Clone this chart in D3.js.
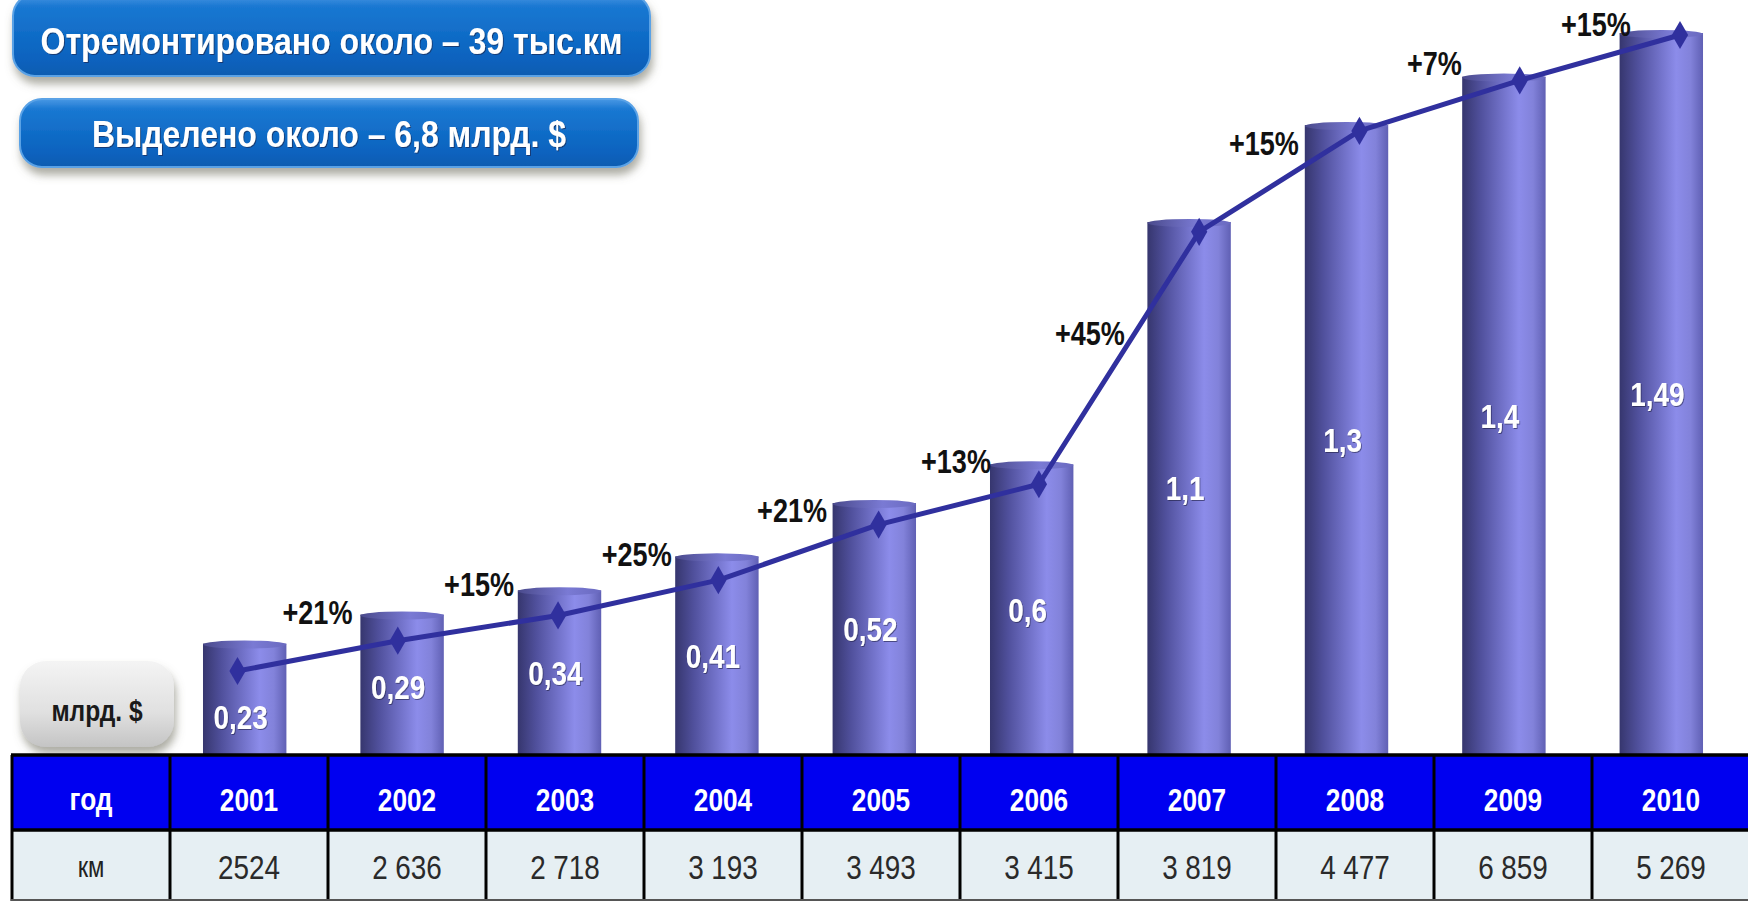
<!DOCTYPE html>
<html>
<head>
<meta charset="utf-8">
<script src="https://cdn.jsdelivr.net/npm/d3@7"></script>
<style>
  body { margin: 0; background: #fff; }
  svg { display: block; font-family: 'Liberation Sans', Arial, sans-serif; }
</style>
</head>
<body>
<svg width="1748" height="902"></svg>
<script>
// data
const years = ['2001', '2002', '2003', '2004', '2005', '2006', '2007', '2008', '2009', '2010']
const funding = [0.23, 0.29, 0.34, 0.41, 0.52, 0.6, 1.1, 1.3, 1.4, 1.49]
const growth = ['+21%', '+15%', '+25%', '+21%', '+13%', '+45%', '+15%', '+7%', '+15%']
const kmText = ['2524', '2 636', '2 718', '3 193', '3 493', '3 415', '3 819', '4 477', '6 859', '5 269']
const banners = ['Отремонтировано около – 39 тыс.км', 'Выделено около – 6,8 млрд. $']
const rowLabels = ['год', 'км']
const unitLabel = 'млрд. $'

const svg = d3.select('svg')
const width = +svg.attr('width')
const height = +svg.attr('height')

const tableTop = 755
const headerBottom = 830
const tableBottom = 900
const tableLeft = 12
const labelColW = 158
const narrow = 0.82 // no narrow font installed, squeeze Liberation Sans instead

const at = (x, y) => `translate(${x},${y}) scale(${narrow},1)`

const defs = svg.append('defs')

const barGrad = defs.append('linearGradient').attr('id', 'barGrad')
  .attr('x1', 0).attr('x2', 1).attr('y1', 0).attr('y2', 0)
;[[0, '#36366e'], [0.22, '#50509c'], [0.5, '#7474cc'], [0.68, '#8c8cea'], [0.85, '#8282da'], [1, '#6060b4']]
  .forEach(([o, c]) => barGrad.append('stop').attr('offset', o).attr('stop-color', c))

const topGrad = defs.append('linearGradient').attr('id', 'topGrad')
  .attr('x1', 0).attr('x2', 1).attr('y1', 0).attr('y2', 0)
;[[0, '#4a4a8c'], [0.6, '#7a7ad4'], [1, '#6a6ac0']]
  .forEach(([o, c]) => topGrad.append('stop').attr('offset', o).attr('stop-color', c))

const blueGrad = defs.append('linearGradient').attr('id', 'blueGrad')
  .attr('x1', 0).attr('x2', 0).attr('y1', 0).attr('y2', 1)
;[[0, '#4a98e4'], [0.15, '#1a78d2'], [0.8, '#0862be'], [1, '#0a5cb0']]
  .forEach(([o, c]) => blueGrad.append('stop').attr('offset', o).attr('stop-color', c))

const greyGrad = defs.append('linearGradient').attr('id', 'greyGrad')
  .attr('x1', 0).attr('x2', 0).attr('y1', 0).attr('y2', 1)
;[[0, '#f4f4f4'], [0.6, '#e0e0e0'], [1, '#c4c4c4']]
  .forEach(([o, c]) => greyGrad.append('stop').attr('offset', o).attr('stop-color', c))

const shadow = defs.append('filter').attr('id', 'shadow')
  .attr('x', '-10%').attr('y', '-20%').attr('width', '120%').attr('height', '160%')
shadow.append('feDropShadow').attr('dx', 2).attr('dy', 7).attr('stdDeviation', 4)
  .attr('flood-color', '#6a6a5a').attr('flood-opacity', 0.55)

const textShadow = defs.append('filter').attr('id', 'textShadow')
textShadow.append('feDropShadow').attr('dx', 1).attr('dy', 1).attr('stdDeviation', 0.6)
  .attr('flood-color', '#1a1a40').attr('flood-opacity', 0.6)

// banners
const bannerBoxes = [
  { x: 13, y: -6, w: 637, h: 82, ty: 54, tw: 582 },
  { x: 20, y: 99, w: 618, h: 68, ty: 147, tw: 474 }
]
const bannerG = svg.append('g')
bannerG.selectAll('rect').data(bannerBoxes).join('rect')
  .attr('x', d => d.x).attr('y', d => d.y)
  .attr('width', d => d.w).attr('height', d => d.h)
  .attr('rx', 22)
  .attr('fill', 'url(#blueGrad)')
  .attr('stroke', '#5aa2e6').attr('stroke-width', 2)
  .attr('filter', 'url(#shadow)')
bannerG.selectAll('text').data(bannerBoxes).join('text')
  .attr('x', d => d.x + d.w / 2 - d.tw / 2).attr('y', d => d.ty)
  .attr('textLength', d => d.tw)
  .attr('lengthAdjust', 'spacingAndGlyphs')
  .attr('fill', '#fff')
  .attr('font-weight', 'bold')
  .attr('font-size', 37)
  .attr('filter', 'url(#textShadow)')
  .text((d, i) => banners[i])

// scales
const xBar = d3.scaleBand().domain(years).range([166, 1740]).paddingInner(0.47).paddingOuter(0.235)
const yBar = d3.scaleLinear().domain([0, d3.max(funding)]).range([tableTop, 33])
const xLine = d3.scalePoint().domain(years).range([237.5, 1680])
const yLine = d3.scaleLinear().domain(d3.extent(funding)).range([671, 35])
const xCol = d3.scaleBand().domain(years).range([tableLeft + labelColW, tableLeft + labelColW * 11])

const data = years.map((y, i) => ({ year: y, value: funding[i] }))
const fmt = v => String(v).replace('.', ',')

// bars
const bars = svg.append('g')
bars.selectAll('rect').data(data).join('rect')
  .attr('x', d => xBar(d.year))
  .attr('y', d => yBar(d.value))
  .attr('width', xBar.bandwidth())
  .attr('height', d => tableTop - yBar(d.value))
  .attr('fill', 'url(#barGrad)')
bars.selectAll('ellipse').data(data).join('ellipse')
  .attr('cx', d => xBar(d.year) + xBar.bandwidth() / 2)
  .attr('cy', d => yBar(d.value) + 1)
  .attr('rx', xBar.bandwidth() / 2)
  .attr('ry', 4)
  .attr('fill', 'url(#topGrad)')

// value labels sit mid-bar, pushed down a bit on the short bars so the line clears them
bars.selectAll('text').data(data).join('text')
  .attr('transform', d => {
    const top = yBar(d.value)
    const mid = (top + tableTop) / 2 + 12
    return at(xBar(d.year) + xBar.bandwidth() / 2 - 4, Math.max(mid, yLine(d.value) + 58))
  })
  .attr('text-anchor', 'middle')
  .attr('fill', '#fff')
  .attr('font-size', 34)
  .attr('font-weight', 'bold')
  .attr('filter', 'url(#textShadow)')
  .text(d => fmt(d.value))

// line
const line = d3.line().x(d => xLine(d.year)).y(d => yLine(d.value))
svg.append('path').datum(data)
  .attr('d', line)
  .attr('fill', 'none')
  .attr('stroke', '#30309e')
  .attr('stroke-width', 5)
  .attr('stroke-linejoin', 'round')
svg.append('g').selectAll('path').data(data).join('path')
  .attr('transform', d => `translate(${xLine(d.year)},${yLine(d.value)})`)
  .attr('d', d3.symbol(d3.symbolDiamond, 230))
  .attr('fill', '#30309e')

// growth labels, offset perpendicular to each segment
const segs = growth.map((g, i) => {
  const x0 = xLine(years[i]), y0 = yLine(funding[i])
  const x1 = xLine(years[i + 1]), y1 = yLine(funding[i + 1])
  const len = Math.hypot(x1 - x0, y1 - y0)
  const nx = (y1 - y0) / len, ny = -(x1 - x0) / len
  return {
    label: g,
    x: (x0 + x1) / 2 + nx * 44 + 8,
    y: Math.max(25, (y0 + y1) / 2 + ny * 44)
  }
})
svg.append('g').selectAll('text').data(segs).join('text')
  .attr('transform', d => at(d.x, d.y + 11))
  .attr('text-anchor', 'middle')
  .attr('fill', '#111')
  .attr('font-size', 33)
  .attr('font-weight', 'bold')
  .text(d => d.label)

// unit box
const unit = svg.append('g')
unit.append('rect')
  .attr('x', 20).attr('y', 661).attr('width', 154).attr('height', 86)
  .attr('rx', 26)
  .attr('fill', 'url(#greyGrad)')
  .attr('filter', 'url(#shadow)')
unit.append('text')
  .attr('transform', at(97, 721))
  .attr('text-anchor', 'middle')
  .attr('fill', '#1a1a1a')
  .attr('font-size', 30)
  .attr('font-weight', 'bold')
  .text(unitLabel)

// table
const table = svg.append('g')
table.append('rect')
  .attr('x', tableLeft).attr('y', tableTop)
  .attr('width', width - tableLeft).attr('height', headerBottom - tableTop)
  .attr('fill', '#0000f0')
table.append('rect')
  .attr('x', tableLeft).attr('y', headerBottom)
  .attr('width', width - tableLeft).attr('height', tableBottom - headerBottom)
  .attr('fill', '#e6eff3')

const colEdges = [tableLeft].concat(years.map(y => xCol(y)))
table.selectAll('line.v').data(colEdges).join('line')
  .attr('class', 'v')
  .attr('x1', d => d).attr('x2', d => d)
  .attr('y1', tableTop).attr('y2', tableBottom + 1)
  .attr('stroke', '#000').attr('stroke-width', 3)
table.selectAll('line.h').data([tableTop, headerBottom, tableBottom]).join('line')
  .attr('class', 'h')
  .attr('x1', tableLeft - 1).attr('x2', width)
  .attr('y1', d => d).attr('y2', d => d)
  .attr('stroke', (d, i) => i === 2 ? '#555' : '#000')
  .attr('stroke-width', (d, i) => i === 2 ? 2 : 3.5)

const labelX = tableLeft + labelColW / 2
table.append('text')
  .attr('transform', at(labelX, 810))
  .attr('text-anchor', 'middle').attr('fill', '#fff')
  .attr('font-size', 32).attr('font-weight', 'bold')
  .text(rowLabels[0])
table.append('text')
  .attr('transform', at(labelX, 877))
  .attr('text-anchor', 'middle').attr('fill', '#222')
  .attr('font-size', 29)
  .text(rowLabels[1])

table.selectAll('text.year').data(years).join('text')
  .attr('class', 'year')
  .attr('transform', d => at(xCol(d) + xCol.bandwidth() / 2, 811))
  .attr('text-anchor', 'middle').attr('fill', '#fff')
  .attr('font-size', 32).attr('font-weight', 'bold')
  .text(d => d)

table.selectAll('text.km').data(years).join('text')
  .attr('class', 'km')
  .attr('transform', d => at(xCol(d) + xCol.bandwidth() / 2, 879))
  .attr('text-anchor', 'middle').attr('fill', '#2a2a2a')
  .attr('font-size', 34)
  .text((d, i) => kmText[i])
</script>
</body>
</html>
